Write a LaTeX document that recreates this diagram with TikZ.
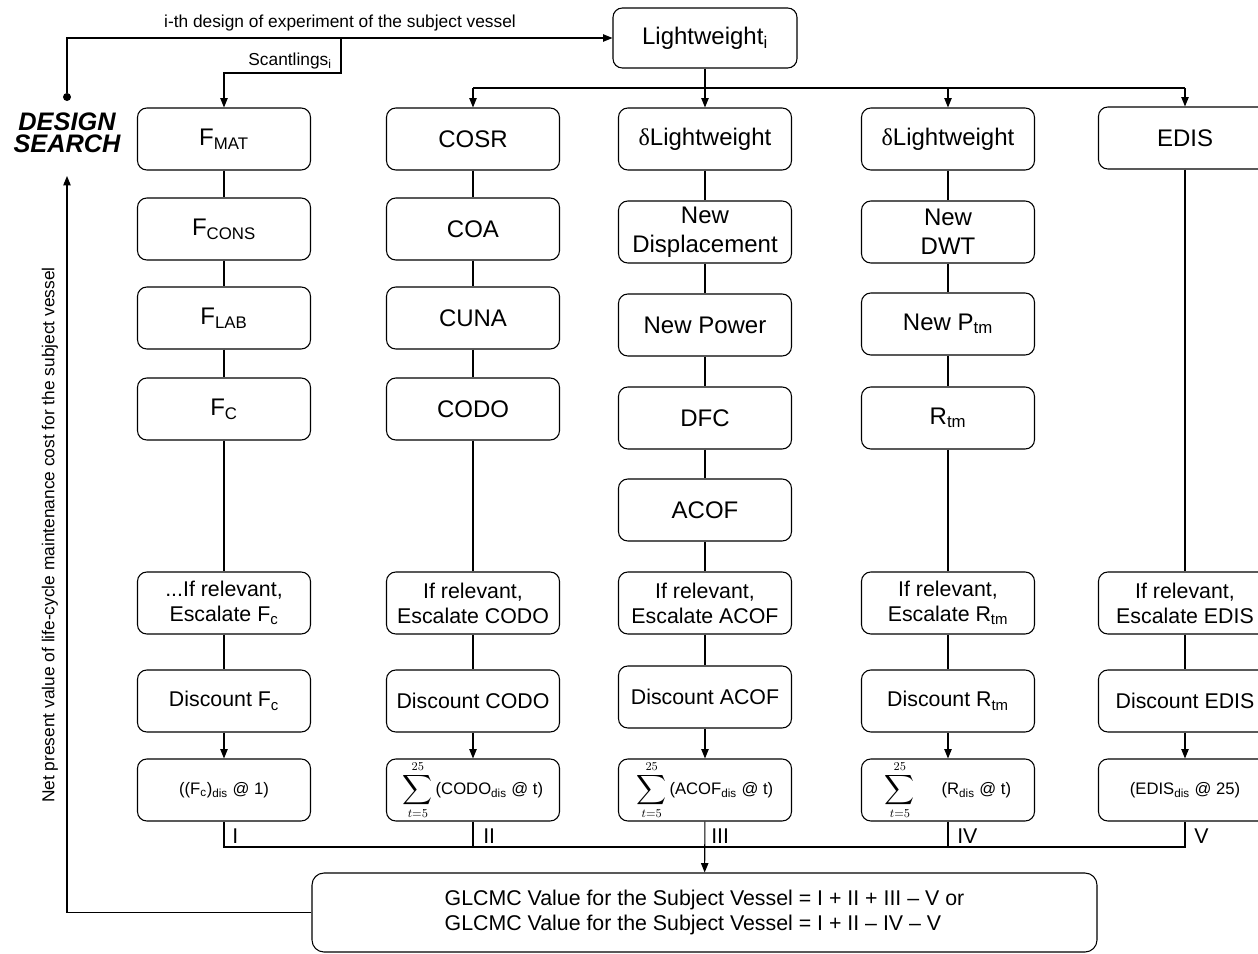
\documentclass[tikz,border=0pt]{standalone}
\usepackage{amsmath}
\usepackage{graphicx}
\usepackage{fontspec}
\setmainfont{Liberation Sans}
\newfontfamily\greekfont{Liberation Serif}
\usetikzlibrary{arrows.meta}

\newcommand{\bigsum}{\mathop{\vcenter{\hbox{\scalebox{1.3}{$\displaystyle\sum$}}}}\limits_{t=5}^{25}}

\tikzset{
  conn/.style={line width=0.8pt},
  arr/.style={conn, -{Triangle[length=7pt,width=5.5pt]}},
  stagebox/.style={draw, conn, rounded corners=7pt, minimum width=129.75pt, minimum height=46.5pt, inner sep=1pt, align=center, font=\fontsize{18}{21.75}\selectfont},
  lowbox/.style={stagebox, font=\fontsize{16}{18.75}\selectfont},
  sumbox/.style={stagebox, font=\fontsize{12.5}{15}\selectfont},
  lab/.style={inner sep=0.75pt, font=\fontsize{13}{15}\selectfont},
  romlab/.style={anchor=west, inner sep=0.75pt, font=\fontsize{16}{18}\selectfont},
}

\begin{document}
\begin{tikzpicture}[x=0.75pt,y=0.75pt,yscale=-1,xscale=1]
\useasboundingbox (0,0) rectangle (1258,954);
\clip (0,0) rectangle (1258,954);

% Design search loop
\node [circle, fill, inner sep=0pt, minimum size=6pt] (dot) at (67,97) {};
\node [font=\fontsize{19}{16.5}\selectfont\bfseries\itshape, align=center, inner sep=0.75pt] (dsrch) at (67,133) {DESIGN\\SEARCH};
\node [stagebox, minimum width=138pt, minimum height=45pt] (lw) at (705,38) {Lightweight\textsubscript{i}};
% Text Node
\node [lab] (doe) at (340,23) {i-th design of experiment of the subject vessel};
% Text Node
\node [lab, anchor=east] (scl) at (333,61) {Scantlings\textsubscript{i}};
% Text Node
\node [lab, rotate=90] (npv) at (50,535) {Net present value of life-cycle maintenance cost for the subject vessel};

\coordinate (brk) at (341,38);
\coordinate (scb) at (341,73);
\coordinate (dl) at (473,88);
\coordinate (dm) at (948,88);
\coordinate (dr) at (1185,88);
\coordinate (busl) at (224,847);
\coordinate (fbt) at (67,176);

% Column I
\node [stagebox] (fmat) at (224,139) {F\textsubscript{MAT}};
\node [stagebox] (fcons) at (224,229) {F\textsubscript{CONS}};
\node [stagebox] (flab) at (224,318) {F\textsubscript{LAB}};
\node [stagebox] (fc) at (224,409) {F\textsubscript{C}};
\node [lowbox] (esc1) at (224,603) {...If relevant,\\Escalate F\textsubscript{c}};
\node [lowbox] (disc1) at (224,701) {Discount F\textsubscript{c}};
\node [sumbox] (res1) at (224,790) {((F\textsubscript{c})\textsubscript{dis} @ 1)};

% Column II
\node [stagebox] (cosr) at (473,139) {COSR};
\node [stagebox] (coa) at (473,229) {COA};
\node [stagebox] (cuna) at (473,318) {CUNA};
\node [stagebox] (codo) at (473,409) {CODO};
\node [lowbox] (esc2) at (473,603) {If relevant,\\Escalate CODO};
\node [lowbox] (disc2) at (473,701) {Discount CODO};
\node [sumbox] (res2) at (473,790) {$\bigsum$\,(CODO\textsubscript{dis} @ t)};

% Column III
\node [stagebox] (dlwa) at (705,139) {{\greekfont δ}Lightweight};
\node [stagebox] (ndisp) at (705,232) {New\\Displacement};
\node [stagebox] (npow) at (705,325) {New Power};
\node [stagebox] (dfc) at (705,418) {DFC};
\node [stagebox] (acof) at (705,510) {ACOF};
\node [lowbox] (esc3) at (705,603) {If relevant,\\Escalate ACOF};
\node [lowbox] (disc3) at (705,697) {Discount ACOF};
\node [sumbox] (res3) at (705,790) {$\bigsum$\,(ACOF\textsubscript{dis} @ t)};

% Column IV
\node [stagebox] (dlwb) at (948,139) {{\greekfont δ}Lightweight};
\node [stagebox] (ndwt) at (948,232) {New\\DWT};
\node [stagebox] (nptm) at (948,324) {New P\textsubscript{tm}};
\node [stagebox] (rtm) at (948,418) {R\textsubscript{tm}};
\node [lowbox] (esc4) at (948,603) {If relevant,\\Escalate R\textsubscript{tm}};
\node [lowbox] (disc4) at (948,701) {Discount R\textsubscript{tm}};
\node [sumbox] (res4) at (948,790) {$\bigsum$\hspace{1.6em}(R\textsubscript{dis} @ t)};

% Column V
\node [stagebox] (edis) at (1185,138) {EDIS};
\node [lowbox] (esc5) at (1185,603) {If relevant,\\Escalate EDIS};
\node [lowbox] (disc5) at (1185,701) {Discount EDIS};
\node [sumbox] (res5) at (1185,790) {(EDIS\textsubscript{dis} @ 25)};

% Result
\node [draw, conn, rounded corners=9pt, minimum width=588.75pt, minimum height=59.25pt, align=left, font=\fontsize{16}{18.75}\selectfont] (glc) at (704.5,912.5) {GLCMC Value for the Subject Vessel = I + II + III – V or\\GLCMC Value for the Subject Vessel = I + II – IV – V};

% Roman labels
\node [romlab] (lI) at (231,836) {I};
\node [romlab] (lII) at (482,836) {II};
\node [romlab] (lIII) at (710,836) {III};
\node [romlab] (lIV) at (956,836) {IV};
\node [romlab] (lV) at (1193,836) {V};

% Connectors
\draw [arr] (dot) |- (lw);
\draw [arr] (brk) -- (scb) -| (fmat);
\draw [conn] (dl) -- (dr);
\draw [arr] (lw) -- (dlwa);
\draw [arr] (dl) -- (cosr);
\draw [arr] (dm) -- (dlwb);
\draw [arr] (dr) -- (edis);

\draw [conn] (fmat) -- (fcons) (fcons) -- (flab) (flab) -- (fc) (fc) -- (esc1) (esc1) -- (disc1);
\draw [arr] (disc1) -- (res1);
\draw [conn] (cosr) -- (coa) (coa) -- (cuna) (cuna) -- (codo) (codo) -- (esc2) (esc2) -- (disc2);
\draw [arr] (disc2) -- (res2);
\draw [conn] (dlwa) -- (ndisp) (ndisp) -- (npow) (npow) -- (dfc) (dfc) -- (acof) (acof) -- (esc3) (esc3) -- (disc3);
\draw [arr] (disc3) -- (res3);
\draw [conn] (dlwb) -- (ndwt) (ndwt) -- (nptm) (nptm) -- (rtm) (rtm) -- (esc4) (esc4) -- (disc4);
\draw [arr] (disc4) -- (res4);
\draw [conn] (edis) -- (esc5) (esc5) -- (disc5);
\draw [arr] (disc5) -- (res5);

\draw [conn] (res1) |- (busl -| res5) -- (res5);
\draw [conn] (res2) -- (res2 |- busl);
\draw [conn] (res4) -- (res4 |- busl);
\draw [arr] (res3) -- (glc);
\draw [arr] (glc) -| (fbt);

\end{tikzpicture}
\end{document}
